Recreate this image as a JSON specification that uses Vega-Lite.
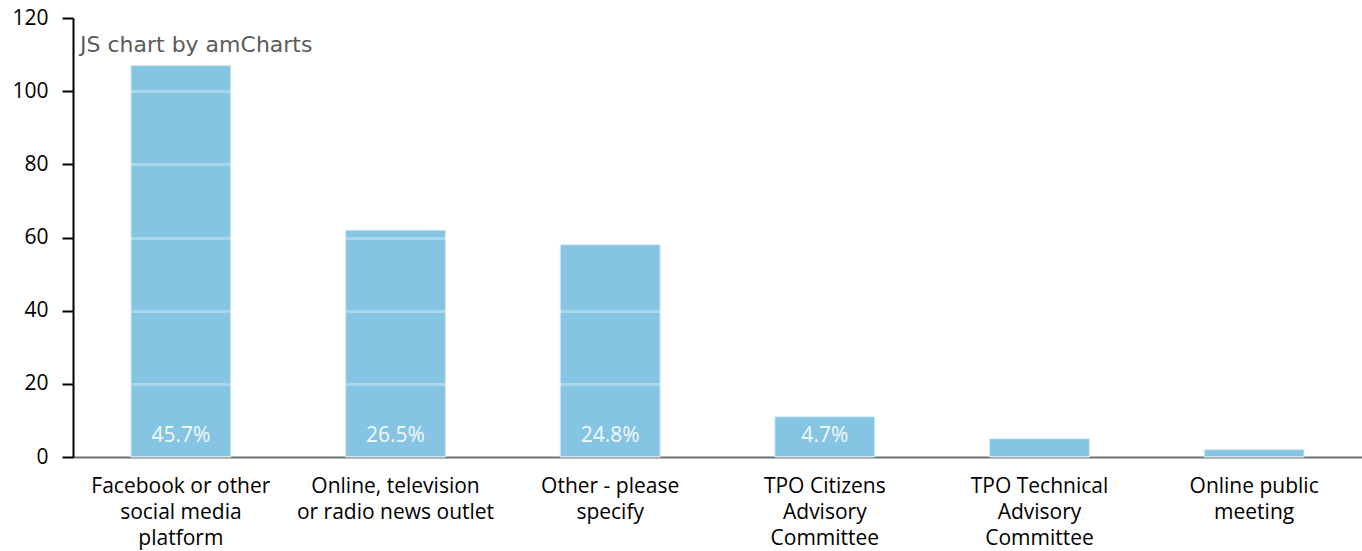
{
  "$schema": "https://vega.github.io/schema/vega-lite/v6.json",
  "width": 1362,
  "height": 551,
  "autosize": {"type": "fit", "contains": "padding"},
  "padding": {"left": 11, "top": 7, "right": 0, "bottom": 3},
  "background": "white",
  "title": {
    "text": "JS chart by amCharts",
    "anchor": "start",
    "frame": "group",
    "orient": "top",
    "offset": -67,
    "dx": 7,
    "baseline": "alphabetic",
    "font": "DejaVu Sans",
    "fontSize": 22,
    "fontWeight": "normal",
    "color": "#5b5b5b"
  },
  "data": {
    "values": [
      {"category": "Facebook or other social media platform", "count": 107, "pct": "45.7%"},
      {"category": "Online, television or radio news outlet", "count": 62, "pct": "26.5%"},
      {"category": "Other - please specify", "count": 58, "pct": "24.8%"},
      {"category": "TPO Citizens Advisory Committee", "count": 11, "pct": "4.7%"},
      {"category": "TPO Technical Advisory Committee", "count": 5, "pct": ""},
      {"category": "Online public meeting", "count": 2, "pct": ""}
    ]
  },
  "config": {
    "view": {"stroke": null},
    "font": "Open Sans",
    "axis": {"labelFont": "Open Sans", "labelFontSize": 21, "labelColor": "#000000"}
  },
  "encoding": {
    "x": {
      "field": "category",
      "type": "nominal",
      "sort": null,
      "scale": {"paddingInner": 0.535, "paddingOuter": 0.27},
      "axis": {
        "title": null,
        "labelAngle": 0,
        "ticks": false,
        "domainColor": "#333333",
        "domainWidth": 2,
        "labelPadding": 18,
        "labelFontSize": 21,
        "labelLineHeight": 26,
        "labelBaseline": "top",
        "labelLimit": 0,
        "labelExpr": "datum.value == 'Facebook or other social media platform' ? ['Facebook or other', 'social media', 'platform'] : datum.value == 'Online, television or radio news outlet' ? ['Online, television', 'or radio news outlet'] : datum.value == 'Other - please specify' ? ['Other - please', 'specify'] : datum.value == 'TPO Citizens Advisory Committee' ? ['TPO Citizens', 'Advisory', 'Committee'] : datum.value == 'TPO Technical Advisory Committee' ? ['TPO Technical', 'Advisory', 'Committee'] : ['Online public', 'meeting']"
      }
    }
  },
  "layer": [
    {
      "mark": {"type": "bar", "color": "#86c4e3", "stroke": "#d4ebf6", "strokeWidth": 1},
      "encoding": {
        "y": {
          "field": "count",
          "type": "quantitative",
          "scale": {"domain": [0, 120]},
          "axis": {
            "title": null,
            "values": [0, 20, 40, 60, 80, 100, 120],
            "domainColor": "#000000",
            "domainWidth": 2,
            "tickColor": "#000000",
            "tickWidth": 2,
            "tickSize": 11,
            "labelPadding": 14,
            "labelFontSize": 21,
            "grid": true,
            "gridColor": "#ffffff",
            "gridOpacity": 0.3,
            "gridWidth": 3,
            "zindex": 1
          }
        }
      }
    },
    {
      "mark": {"type": "text", "color": "#ffffff", "fontSize": 21, "baseline": "middle", "dy": -21, "opacity": 0.9},
      "encoding": {
        "y": {"datum": 0, "type": "quantitative"},
        "text": {"field": "pct", "type": "nominal"}
      }
    }
  ]
}
